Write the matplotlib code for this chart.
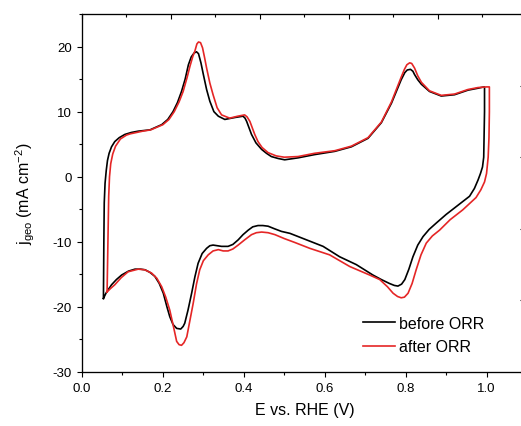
import matplotlib
matplotlib.use("Agg")
import matplotlib.pyplot as plt
from matplotlib.ticker import MultipleLocator, FormatStrFormatter

plt.rcParams['font.family'] = ['Liberation Sans', 'DejaVu Sans']
plt.rcParams['mathtext.fontset'] = 'custom'
plt.rcParams['mathtext.rm'] = 'Liberation Sans'
plt.rcParams['mathtext.it'] = 'Liberation Sans:italic'
plt.rcParams['axes.unicode_minus'] = False

# before ORR: anodic scan then cathodic scan (E in V, j in mA cm^-2)
before_E = [0.053, 0.054, 0.055, 0.057, 0.060, 0.063, 0.067, 0.073, 0.081, 0.092, 0.106, 0.122,
            0.139, 0.168, 0.197, 0.212, 0.225, 0.236, 0.246, 0.255, 0.263, 0.270, 0.277, 0.283,
            0.288, 0.294, 0.300, 0.308, 0.316, 0.326, 0.337, 0.353, 0.378, 0.398, 0.403, 0.407,
            0.413, 0.419, 0.430, 0.444, 0.456, 0.468, 0.485, 0.501, 0.534, 0.575, 0.625, 0.666,
            0.707, 0.740, 0.765, 0.789, 0.798, 0.804, 0.812, 0.818, 0.822, 0.830, 0.839, 0.859,
            0.888, 0.921, 0.954, 0.979, 0.990, 0.995,
            0.995, 0.994, 0.993, 0.990, 0.985, 0.979, 0.970, 0.958, 0.925, 0.900, 0.876, 0.858,
            0.843, 0.830, 0.818, 0.808, 0.798, 0.790, 0.781, 0.772, 0.760, 0.740, 0.719, 0.678,
            0.637, 0.596, 0.555, 0.514, 0.493, 0.476, 0.460, 0.447, 0.435, 0.422, 0.411, 0.398,
            0.386, 0.373, 0.361, 0.345, 0.334, 0.324, 0.316, 0.308, 0.297, 0.287, 0.279, 0.271,
            0.262, 0.254, 0.250, 0.244, 0.234, 0.225, 0.217, 0.210, 0.201, 0.191, 0.180, 0.168,
            0.156, 0.145, 0.131, 0.115, 0.098, 0.085, 0.073, 0.060, 0.053]
before_j = [-18.7, -10.0, -4.0, -1.0, 1.0, 2.5, 3.6, 4.6, 5.4, 6.0, 6.5, 6.8,
            7.0, 7.2, 8.0, 8.8, 10.0, 11.4, 13.1, 15.0, 17.2, 18.4, 19.0, 19.2,
            18.9, 17.5, 15.7, 13.4, 11.6, 10.0, 9.3, 8.8, 9.1, 9.3, 9.0, 8.5,
            7.5, 6.5, 5.2, 4.2, 3.6, 3.1, 2.8, 2.6, 2.9, 3.4, 3.9, 4.6,
            5.9, 8.3, 11.3, 14.9, 16.0, 16.4, 16.5, 16.2, 15.7, 14.9, 14.2, 13.1,
            12.4, 12.6, 13.3, 13.6, 13.75, 13.8,
            10.0, 6.0, 3.0, 1.5, 0.5, -0.5, -1.8, -3.0, -4.6, -5.8, -7.1, -8.1,
            -9.2, -10.5, -12.3, -14.2, -15.8, -16.5, -16.8, -16.7, -16.4, -15.8, -15.1, -13.5,
            -12.3, -10.7, -9.7, -8.7, -8.4, -8.0, -7.6, -7.5, -7.5, -7.7, -8.2, -8.9,
            -9.7, -10.4, -10.7, -10.7, -10.6, -10.5, -10.6, -11.0, -11.8, -13.3, -15.4, -17.9,
            -20.5, -22.5, -23.0, -23.4, -23.3, -22.7, -21.5, -20.0, -17.9, -16.4, -15.3, -14.7,
            -14.3, -14.2, -14.2, -14.5, -15.1, -15.8, -16.6, -17.8, -18.7]

# after ORR
after_E = [0.062, 0.064, 0.066, 0.068, 0.071, 0.076, 0.083, 0.095, 0.110, 0.120, 0.150, 0.170,
           0.200, 0.215, 0.228, 0.240, 0.250, 0.260, 0.267, 0.274, 0.279, 0.284, 0.288, 0.293,
           0.298, 0.303, 0.308, 0.316, 0.324, 0.334, 0.345, 0.365, 0.385, 0.402, 0.408, 0.415,
           0.421, 0.427, 0.435, 0.445, 0.460, 0.480, 0.500, 0.534, 0.575, 0.625, 0.666, 0.707,
           0.740, 0.765, 0.789, 0.797, 0.803, 0.810, 0.815, 0.822, 0.830, 0.839, 0.859, 0.888,
           0.921, 0.954, 0.979, 1.000, 1.007,
           1.007, 1.006, 1.004, 1.000, 0.995, 0.986, 0.974, 0.941, 0.910, 0.884, 0.866, 0.851,
           0.838, 0.826, 0.816, 0.806, 0.797, 0.789, 0.780, 0.769, 0.755, 0.736, 0.711, 0.662,
           0.612, 0.563, 0.526, 0.500, 0.477, 0.460, 0.444, 0.431, 0.419, 0.402, 0.386, 0.373,
           0.361, 0.349, 0.337, 0.324, 0.312, 0.300, 0.291, 0.283, 0.275, 0.267, 0.259, 0.252,
           0.246, 0.240, 0.234, 0.226, 0.217, 0.207, 0.197, 0.185, 0.172, 0.155, 0.139, 0.114,
           0.097, 0.081, 0.070, 0.062]
after_j = [-17.7, -10.0, -3.0, 0.0, 2.0, 3.5, 4.7, 5.8, 6.4, 6.6, 7.0, 7.2,
           8.0, 8.8, 10.0, 11.5, 13.1, 15.3, 17.0, 18.5, 19.3, 20.4, 20.7, 20.6,
           19.8, 18.3, 16.7, 14.4, 12.6, 10.6, 9.5, 9.0, 9.3, 9.5, 9.2, 8.5,
           7.5, 6.5, 5.4, 4.5, 3.7, 3.2, 3.0, 3.1, 3.6, 4.0, 4.7, 6.0,
           8.4, 11.5, 15.3, 16.5, 17.2, 17.5, 17.4, 16.7, 15.5, 14.5, 13.2, 12.5,
           12.7, 13.4, 13.7, 13.8, 13.8,
           10.0, 6.0, 3.0, 0.5, -0.8, -2.0, -3.2, -5.1, -6.6, -8.2, -9.1, -10.2,
           -12.0, -14.3, -16.4, -17.9, -18.5, -18.6, -18.4, -17.9, -16.9, -15.8, -15.1, -13.8,
           -12.0, -11.0, -10.1, -9.5, -8.9, -8.6, -8.5, -8.6, -8.9, -9.7, -10.5, -11.1,
           -11.4, -11.4, -11.2, -11.4, -12.0, -12.9, -14.3, -16.5, -19.4, -22.0, -24.6, -25.5,
           -25.9, -25.8, -25.3, -23.0, -20.5, -18.5, -16.9, -15.6, -14.8, -14.3, -14.2, -14.6,
           -15.5, -16.6, -17.2, -17.7]

labels = ['before ORR', 'after ORR']
colors = ['#000000', '#e52626']

W, H = 521, 427
fig = plt.figure(figsize=(W / 100, H / 100), dpi=100)
ax = fig.add_axes([82 / W, 1 - 373 / H, 445 / W, 358 / H])

ax.plot(before_E, before_j, color=colors[0], lw=1.2, label=labels[0],
        solid_joinstyle='round')
ax.plot(after_E, after_j, color=colors[1], lw=1.2, label=labels[1],
        solid_joinstyle='round')

ax.set_xlim(0, 1.1)
ax.set_ylim(-30, 25)
ax.xaxis.set_major_locator(MultipleLocator(0.2))
ax.xaxis.set_minor_locator(MultipleLocator(0.1))
ax.yaxis.set_major_locator(MultipleLocator(10))
ax.yaxis.set_minor_locator(MultipleLocator(5))
ax.tick_params(which='both', direction='out', top=False, right=False, labelsize=9.5, width=0.8)
ax.tick_params(which='major', length=3.8)
ax.tick_params(which='minor', length=2.3)
ax.xaxis.set_major_formatter(FormatStrFormatter('%.1f'))
for s in ax.spines.values():
    s.set_linewidth(0.8)

ax.set_xlabel('E vs. RHE (V)', fontsize=11.5, labelpad=6)
ax.set_ylabel(r'j$_{\mathrm{geo}}$ (mA cm$^{-2}$)', fontsize=11.5, labelpad=11)

# top and right tick axes (from neighbouring frame)
axt = ax.twiny()
axt.set_xlim(0, 1.0)
axt.xaxis.set_major_locator(MultipleLocator(0.2))
axt.xaxis.set_minor_locator(MultipleLocator(0.1))
axt.tick_params(axis='x', which='both', direction='in', labeltop=False, width=0.8)
axt.tick_params(axis='x', which='major', length=3.8)
axt.tick_params(axis='x', which='minor', length=2.3)

axr = ax.twinx()
axr.set_ylim(0, 5)
axr.yaxis.set_major_locator(MultipleLocator(1))
axr.tick_params(axis='y', which='both', direction='in', labelright=False, length=5, width=0.8)

ax.legend(loc='lower right', bbox_to_anchor=(0.912, 0.04), frameon=False, fontsize=11.5,
          handlelength=2.0, handletextpad=0.3, labelspacing=0.55, borderpad=0.2, borderaxespad=0)

fig.savefig('out.png', dpi=100)
